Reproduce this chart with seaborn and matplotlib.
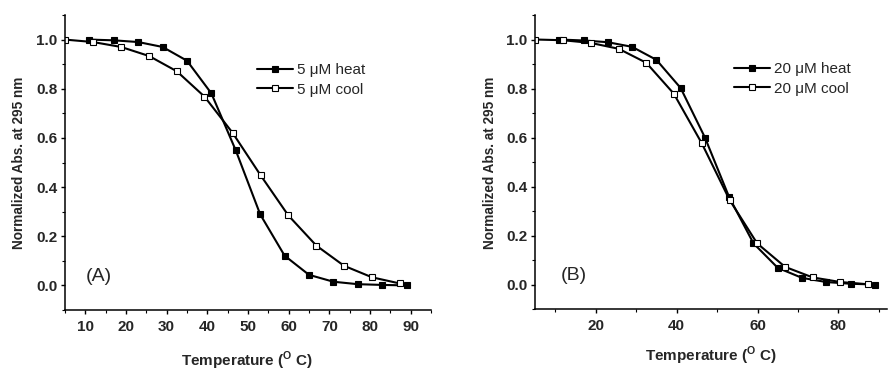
import matplotlib
matplotlib.use("Agg")
import matplotlib.pyplot as plt
import seaborn as sns
import pandas as pd
import numpy as np
from matplotlib.ticker import MultipleLocator

# ---- data ----
heat_T = [11, 17, 23, 29, 35, 41, 47, 53, 59, 65, 71, 77, 83, 89]
cool_T = [5, 11.9, 18.8, 25.7, 32.5, 39.3, 46.2, 53.1, 59.9, 66.8, 73.6, 80.5, 87.3]

heat_5 = [1.0, 0.997, 0.99, 0.970, 0.914, 0.781, 0.549, 0.289, 0.121, 0.043, 0.015, 0.005, 0.002, 0.0]
cool_5 = [1.0, 0.99, 0.97, 0.933, 0.871, 0.768, 0.621, 0.448, 0.285, 0.162, 0.080, 0.033, 0.008]

heat_20 = [1.0, 0.996, 0.989, 0.970, 0.917, 0.802, 0.600, 0.356, 0.168, 0.068, 0.027, 0.010, 0.003, 0.0]
cool_20 = [1.0, 0.997, 0.986, 0.962, 0.905, 0.779, 0.577, 0.345, 0.168, 0.072, 0.029, 0.010, 0.001]

labels_A = ["5 \u03bcM heat", "5 \u03bcM cool"]
labels_B = ["20 \u03bcM heat", "20 \u03bcM cool"]
panel_tags = ["(A)", "(B)"]
ylabel = "Normalized Abs. at 295 nm"
xlabel = "Temperature ($^{\\mathregular{O}}$ C)"

sns.set_theme(style="ticks")
plt.rcParams['font.family'] = ['Liberation Sans', 'DejaVu Sans']
plt.rcParams['mathtext.fontset'] = 'custom'
plt.rcParams['mathtext.rm'] = 'Liberation Sans:bold'
plt.rcParams['mathtext.bf'] = 'Liberation Sans:bold'

fig = plt.figure(figsize=(8.88, 3.73), dpi=100)
axA = fig.add_axes([65/888, 1-310/373, 366/888, 295/373])
axB = fig.add_axes([535/888, 1-309/373, 352/888, 294/373])


def draw(ax, hv, cv, labels, tag, xlim, xmaj, xmin, leg_anchor, tagpos):
    dh = pd.DataFrame({"T": heat_T, "A": hv})
    dc = pd.DataFrame({"T": cool_T, "A": cv})
    sns.lineplot(data=dh, x="T", y="A", ax=ax, color="black", lw=1.5,
                 marker="s", markersize=4.5, markerfacecolor="black",
                 markeredgecolor="black", markeredgewidth=0.8, label=labels[0])
    sns.lineplot(data=dc, x="T", y="A", ax=ax, color="black", lw=1.5,
                 marker="s", markersize=4.5, markerfacecolor="white",
                 markeredgecolor="black", markeredgewidth=0.8, label=labels[1])
    ax.set_xlim(*xlim)
    ax.set_ylim(-0.1, 1.1)
    ax.xaxis.set_major_locator(MultipleLocator(xmaj))
    ax.xaxis.set_minor_locator(MultipleLocator(xmin))
    ax.yaxis.set_minor_locator(MultipleLocator(0.1))
    ax.set_yticks(np.arange(0, 1.01, 0.2))
    ax.set_yticklabels([f"{v:.1f}" for v in np.arange(0, 1.01, 0.2)])
    ax.tick_params(axis="both", which="major", length=3, width=1, direction="out",
                   labelsize=11, color="black")
    ax.tick_params(axis="x", which="major", pad=4)
    ax.tick_params(axis="y", which="major", pad=2.5)
    ax.tick_params(axis="both", which="minor", length=2.5, width=0.8, direction="out",
                   color="black")
    for lab in ax.get_xticklabels() + ax.get_yticklabels():
        lab.set_fontweight("bold")
    for s in ["top", "right"]:
        ax.spines[s].set_visible(False)
    for s in ["left", "bottom"]:
        ax.spines[s].set_linewidth(1.1)
        ax.spines[s].set_color("black")
    ax.set_xlabel("")
    ax.set_ylabel("")
    ax.legend(loc="upper left", bbox_to_anchor=leg_anchor, frameon=False,
              fontsize=11, handlelength=2.35, handletextpad=0.25,
              labelspacing=0.38, borderaxespad=0, borderpad=0)
    ax.text(tagpos[0], tagpos[1], tag, transform=ax.transData, fontsize=14,
            ha="left", va="center")
    ax.grid(False)


draw(axA, heat_5, cool_5, labels_A, panel_tags[0], (5, 95), 10, 5,
     ((257-65)/366, (310-63)/295), (10.2, 0.035))
draw(axB, heat_20, cool_20, labels_B, panel_tags[1], (5, 92), 20, 10,
     ((734-535)/352, (309-62)/294), (11.4, 0.035))

fig.text(247/888, 1-361/373, xlabel, ha="center", va="center", fontsize=11, fontweight="bold")
fig.text(711/888, 1-356/373, xlabel, ha="center", va="center", fontsize=11, fontweight="bold")
fig.text(19/888, 1-163/373, ylabel, ha="center", va="center", rotation=90, fontsize=9.8, fontweight="bold")
fig.text(490/888, 1-163/373, ylabel, ha="center", va="center", rotation=90, fontsize=9.8, fontweight="bold")

fig.savefig("out.png", dpi=100)
